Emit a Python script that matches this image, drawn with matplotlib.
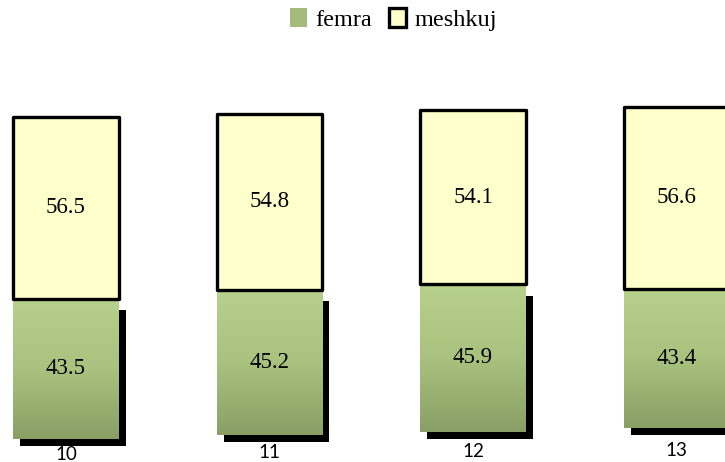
import matplotlib.pyplot as plt
import matplotlib.transforms as mtransforms
import numpy as np
from matplotlib.patches import Patch, Rectangle
from matplotlib.colors import LinearSegmentedColormap

# data
years = ['10', '11', '12', '13']
femra = [43.5, 45.2, 45.9, 43.4]
meshkuj = [56.5, 54.8, 54.1, 56.6]

plt.rcParams['font.family'] = ['Liberation Serif', 'DejaVu Serif']

fig = plt.figure(figsize=(7.25, 4.62), dpi=100)
ax = fig.add_axes([0, 0, 1, 1])
ax.set_axis_off()

x = np.arange(len(years))
tilt = 1.08          # the bars climb a little from left to right (perspective look)
base = x * tilt
width = 0.52

green = LinearSegmentedColormap.from_list('femra', ['#8a9f66', '#a9c27f', '#b6d18b'])
grad = np.linspace(0, 1, 100).reshape(-1, 1)
shadow_tr = mtransforms.offset_copy(ax.transData, fig=fig, x=7, y=-7, units='dots')

# femra bars: gradient fill clipped to the bar, black shadow behind
bars_f = ax.bar(x, femra, width, bottom=base, color='none', edgecolor='none', zorder=2)
for b in bars_f:
    x0, y0, w, h = b.get_x(), b.get_y(), b.get_width(), b.get_height()
    ax.add_patch(Rectangle((x0, y0), w, h * 0.97, facecolor='black',
                           edgecolor='none', transform=shadow_tr, zorder=1))
    im = ax.imshow(grad, cmap=green, extent=[x0, x0 + w, y0, y0 + h],
                   origin='lower', aspect='auto', zorder=2)
    im.set_clip_path(b)

# meshkuj bars on top
ax.bar(x, meshkuj, width, bottom=base + np.array(femra), color='#ffffcc',
       edgecolor='black', linewidth=2.4, joinstyle='round', zorder=3)

# value labels
for i in range(len(years)):
    ax.text(x[i], base[i] + femra[i] / 2, f'{femra[i]}', ha='center', va='center',
            fontsize=16.5, zorder=4)
    ax.text(x[i], base[i] + femra[i] + meshkuj[i] / 2, f'{meshkuj[i]}', ha='center',
            va='center', fontsize=16.5, zorder=4)
    # category labels
    ax.text(x[i], -6.6 + 0.45 * i, years[i], ha='center', va='baseline',
            family=['Lato', 'DejaVu Sans'], fontsize=13.5)

ax.set_xlim(-0.324, 3.238)
ax.set_ylim(-7.24, 136.4)

handles = [Patch(facecolor='#a3bb7b', edgecolor='none', label='femra'),
           Patch(facecolor='#ffffcc', edgecolor='black', linewidth=2.4, label='meshkuj')]
fig.legend(handles=handles, loc='center', bbox_to_anchor=(0.543, 0.957), ncol=2,
           frameon=False, fontsize=17.5, handlelength=0.7, handleheight=0.8,
           handletextpad=0.35, columnspacing=0.7)

fig.savefig('out.png', dpi=100)
